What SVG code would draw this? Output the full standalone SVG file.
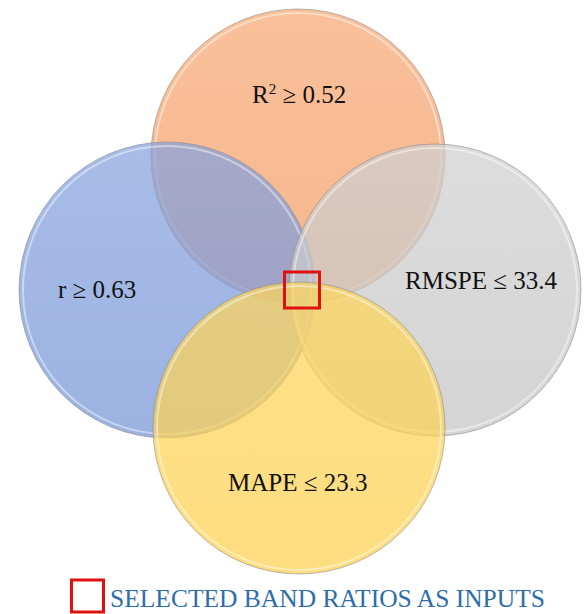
<svg xmlns="http://www.w3.org/2000/svg" width="588" height="614" viewBox="0 0 588 614">
<style>
.c{stroke:#8a8a8a;stroke-width:1;stroke-opacity:0.6}
.rim{fill:none;stroke:#ffffff;stroke-width:2;stroke-opacity:0.45}
.lbl{font-family:"Liberation Serif","Times New Roman",serif;font-size:25px;fill:#111}
</style>
<defs>
<linearGradient id="gO" x1="0" y1="0" x2="0" y2="1"><stop offset="0" stop-color="#F6A872"/><stop offset="1" stop-color="#F49A62"/></linearGradient>
<linearGradient id="gB" x1="0" y1="0" x2="0" y2="1"><stop offset="0" stop-color="#86A2DE"/><stop offset="1" stop-color="#7594D6"/></linearGradient>
<linearGradient id="gG" x1="0" y1="0" x2="0" y2="1"><stop offset="0" stop-color="#CFCFCF"/><stop offset="1" stop-color="#C4C4C4"/></linearGradient>
<linearGradient id="gY" x1="0" y1="0" x2="0" y2="1"><stop offset="0" stop-color="#FED55A"/><stop offset="1" stop-color="#FDD04E"/></linearGradient>
</defs>
<rect width="588" height="614" fill="#ffffff"/>
<g id="node-r2">
<circle class="c" cx="298" cy="156" r="147" fill="url(#gO)" fill-opacity="0.72"/>
<circle class="rim" cx="298" cy="156" r="143"/>
</g>
<g id="node-r">
<circle class="c" cx="167" cy="290" r="148" fill="url(#gB)" fill-opacity="0.72"/>
<circle class="rim" cx="167" cy="290" r="144"/>
</g>
<g id="node-rmspe">
<circle class="c" cx="435" cy="290" r="146" fill="url(#gG)" fill-opacity="0.72"/>
<circle class="rim" cx="435" cy="290" r="142"/>
</g>
<g id="node-mape">
<circle class="c" cx="299" cy="428" r="146" fill="url(#gY)" fill-opacity="0.72"/>
<circle class="rim" cx="299" cy="428" r="142"/>
</g>
<g id="labels">
<text class="lbl" x="252" y="103">R<tspan font-size="15" dy="-9">2</tspan><tspan dy="9"> ≥ 0.52</tspan></text>
<text class="lbl" x="58" y="298">r ≥ 0.63</text>
<text class="lbl" x="405" y="289">RMSPE ≤ 33.4</text>
<text class="lbl" x="228" y="491">MAPE ≤ 23.3</text>
</g>
<g id="selection">
<rect x="284.5" y="272" width="35" height="36" fill="none" stroke="#E01010" stroke-width="3"/>
</g>
<g id="legend">
<rect x="71.5" y="580" width="32" height="32" fill="none" stroke="#E01010" stroke-width="3"/>
<text x="110" y="607" font-family="'Liberation Serif','Times New Roman',serif" font-size="25.5" fill="#2E6DAA">SELECTED BAND RATIOS AS INPUTS</text>
</g>
</svg>
